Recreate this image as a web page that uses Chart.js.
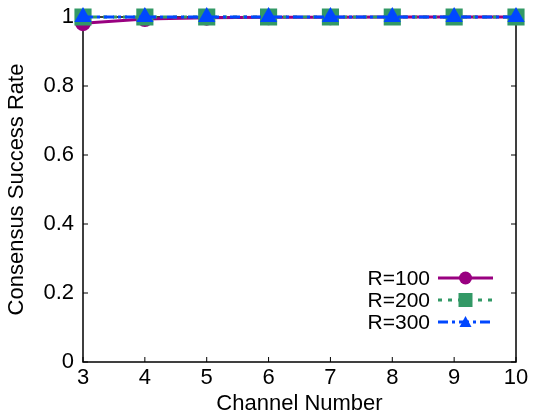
<!DOCTYPE html>
<html>
<head>
<meta charset="utf-8">
<script src="https://cdn.jsdelivr.net/npm/chart.js@4.4.0/dist/chart.umd.min.js"></script>
<style>
  html, body { margin: 0; padding: 0; background: #fff; }
  #wrap { width: 533px; height: 417px; }
</style>
</head>
<body>
<div id="wrap"><canvas id="chart"></canvas></div>
<script>
// Data
const channels = [3, 4, 5, 6, 7, 8, 9, 10];
const r100 = [0.982, 0.994, 0.998, 0.999, 0.999, 1, 1, 1];
const r200 = [1, 1, 1, 1, 1, 1, 1, 1];
const r300 = [1, 1, 1, 1, 1, 1, 1, 1];
const yTicks = [0, 0.2, 0.4, 0.6, 0.8, 1];
const seriesNames = ['R=100', 'R=200', 'R=300'];

const FONT = '"Liberation Sans", Arial, sans-serif';

function toPoints(vals) {
  return channels.map((c, i) => ({ x: c, y: vals[i] }));
}

// Gnuplot-style frame with inward ticks
const framePlugin = {
  id: 'frame',
  beforeDatasetsDraw(chart) {
    const { ctx, chartArea: a, scales } = chart;
    ctx.save();
    ctx.strokeStyle = '#000';
    ctx.lineWidth = 1.5;
    ctx.strokeRect(a.left, a.top, a.right - a.left, a.bottom - a.top);
    ctx.lineWidth = 1;
    ctx.beginPath();
    channels.forEach(c => {
      const x = scales.x.getPixelForValue(c);
      ctx.moveTo(x, a.bottom); ctx.lineTo(x, a.bottom - 5);
      ctx.moveTo(x, a.top); ctx.lineTo(x, a.top + 5);
    });
    yTicks.forEach(v => {
      const y = scales.y.getPixelForValue(v);
      ctx.moveTo(a.left, y); ctx.lineTo(a.left + 5, y);
      ctx.moveTo(a.right, y); ctx.lineTo(a.right - 5, y);
    });
    ctx.stroke();
    ctx.restore();
  }
};

// Legend inside the plot, bottom right
const legendPlugin = {
  id: 'insideLegend',
  afterDraw(chart) {
    const { ctx } = chart;
    const rows = [278, 300, 322];
    const textRight = 430, x0 = 438, x1 = 493;
    ctx.save();
    ctx.font = '21px ' + FONT;
    ctx.textAlign = 'right';
    ctx.textBaseline = 'middle';
    chart.data.datasets.forEach((ds, i) => {
      const y = rows[i];
      ctx.fillStyle = '#000';
      ctx.fillText(ds.label, textRight, y + 1);
      ctx.strokeStyle = ds.borderColor;
      ctx.lineWidth = ds.borderWidth;
      ctx.setLineDash(ds.borderDash || []);
      ctx.beginPath();
      ctx.moveTo(x0, y); ctx.lineTo(x1, y);
      ctx.stroke();
      ctx.setLineDash([]);
      const cx = (x0 + x1) / 2;
      ctx.fillStyle = ds.pointBackgroundColor;
      ctx.beginPath();
      if (ds.pointStyle === 'circle') {
        ctx.arc(cx, y, 6.5, 0, Math.PI * 2);
      } else if (ds.pointStyle === 'rect') {
        ctx.rect(cx - 7, y - 7, 14, 14);
      } else {
        ctx.moveTo(cx, y - 6); ctx.lineTo(cx + 6, y + 5); ctx.lineTo(cx - 6, y + 5); ctx.closePath();
      }
      ctx.fill();
    });
    ctx.restore();
  }
};

const ctx = document.getElementById('chart').getContext('2d');
const chart = new Chart(ctx, {
  type: 'line',
  data: {
    datasets: [
      {
        label: seriesNames[0],
        data: toPoints(r100),
        borderColor: '#990080',
        backgroundColor: '#990080',
        pointBackgroundColor: '#990080',
        pointBorderColor: '#990080',
        borderWidth: 3,
        pointStyle: 'circle',
        pointRadius: 6.5,
        order: 3,
        clip: false
      },
      {
        label: seriesNames[1],
        data: toPoints(r200),
        borderColor: '#339966',
        backgroundColor: '#339966',
        pointBackgroundColor: '#339966',
        pointBorderColor: '#339966',
        borderWidth: 3,
        borderDash: [4, 6],
        pointStyle: 'rect',
        pointRadius: 10,
        order: 2,
        clip: false
      },
      {
        label: seriesNames[2],
        data: toPoints(r300),
        borderColor: '#0047ff',
        backgroundColor: '#0047ff',
        pointBackgroundColor: '#0047ff',
        pointBorderColor: '#0047ff',
        borderWidth: 3,
        borderDash: [10, 4, 3, 4],
        pointStyle: 'triangle',
        pointRadius: 7,
        order: 1,
        clip: false
      }
    ]
  },
  options: {
    responsive: true,
    maintainAspectRatio: false,
    animation: false,
    layout: { padding: { top: 17, right: 17, left: 0, bottom: 0 } },
    plugins: {
      legend: { display: false },
      tooltip: { enabled: false }
    },
    scales: {
      x: {
        type: 'linear',
        min: 3,
        max: 10,
        grid: { display: false, drawTicks: false },
        border: { display: false },
        ticks: {
          stepSize: 1,
          color: '#000',
          font: { family: FONT, size: 22 },
          padding: 3
        },
        title: {
          display: true,
          text: 'Channel Number',
          color: '#000',
          font: { family: FONT, size: 22 },
          padding: { top: -6, bottom: 0 }
        },
        afterFit(scale) { scale.height = 55; }
      },
      y: {
        min: 0,
        max: 1,
        grid: { display: false, drawTicks: false },
        border: { display: false },
        afterBuildTicks(scale) { scale.ticks = yTicks.map(v => ({ value: v })); },
        ticks: {
          color: '#000',
          font: { family: FONT, size: 22 },
          padding: 9,
          callback: v => String(v)
        },
        title: {
          display: true,
          text: 'Consensus Success Rate',
          color: '#000',
          font: { family: FONT, size: 22 },
          padding: { top: 4, bottom: 0 }
        },
        afterFit(scale) {
          scale.width = 83;
          scale.paddingTop = 0;
          scale.paddingBottom = 0;
        }
      }
    }
  },
  plugins: [framePlugin, legendPlugin]
});
</script>
</body>
</html>
